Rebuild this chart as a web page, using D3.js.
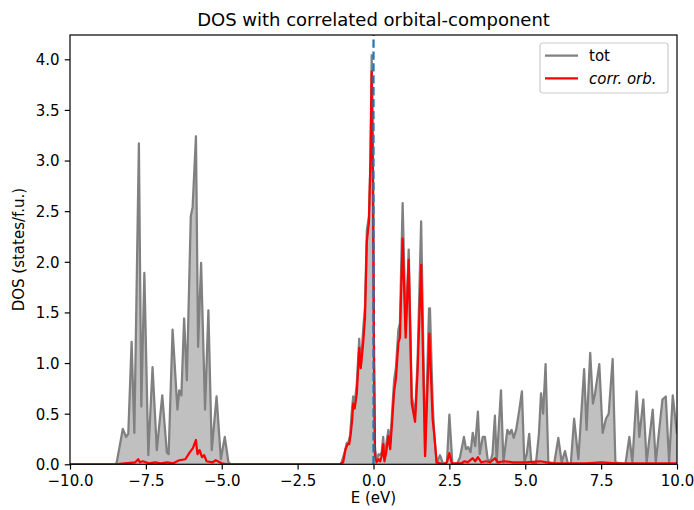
<!DOCTYPE html>
<html>
<head>
<meta charset="utf-8">
<script src="https://cdn.jsdelivr.net/npm/d3@7"></script>
<style>
  body { margin: 0; background: #fff; }
  svg { display: block; font-family: "DejaVu Sans", sans-serif; }
</style>
</head>
<body>
<script>
// total DOS, [E (eV), states/f.u.]
const totDOS = [
  [-10, 0], [-8.5, 0], [-8.46, 0.02], [-8.35, 0.2], [-8.26, 0.35], [-8.15, 0.27], [-8.08, 0.3],
  [-7.97, 1.21], [-7.88, 0.31], [-7.73, 3.17], [-7.65, 0.57], [-7.55, 1.89], [-7.42, 0.09],
  [-7.28, 0.96], [-7.14, 0.14], [-6.96, 0.68], [-6.81, 0.12], [-6.75, 0.1], [-6.62, 1.33],
  [-6.46, 0.54], [-6.40, 0.73], [-6.33, 0.68], [-6.24, 1.44], [-6.15, 0.83], [-6.02, 2.45],
  [-5.96, 2.54], [-5.85, 3.24], [-5.78, 1.16], [-5.68, 1.99], [-5.55, 0.54], [-5.44, 1.52],
  [-5.33, 0.14], [-5.17, 0.67], [-5.03, 0.05], [-4.90, 0.27], [-4.78, 0.02], [-4.7, 0],
  [-1.1, 0], [-1.05, 0.02], [-0.95, 0.12], [-0.88, 0.21], [-0.82, 0.22], [-0.77, 0.29],
  [-0.72, 0.5], [-0.67, 0.67], [-0.62, 0.6], [-0.55, 0.8], [-0.47, 1.24], [-0.42, 0.96],
  [-0.34, 1.33], [-0.28, 1.56], [-0.22, 2.31], [-0.15, 2.45], [-0.1, 3.0], [-0.06, 4.04],
  [-0.02, 3.0], [0.02, 1.0], [0.05, 0.15], [0.1, 0.05], [0.17, 0.1], [0.22, 0.09], [0.27, 0.12],
  [0.32, 0.27], [0.36, 0.07], [0.42, 0.2], [0.49, 0.34], [0.55, 0.2], [0.62, 0.55], [0.68, 0.83],
  [0.74, 0.96], [0.82, 1.33], [0.87, 1.39], [0.96, 2.58], [1.06, 1.33], [1.16, 2.12],
  [1.26, 0.67], [1.37, 0.5], [1.45, 1.0], [1.57, 2.40], [1.70, 0.11], [1.83, 1.54], [1.86, 1.54],
  [1.95, 0.6], [2.0, 0.3], [2.08, 0.01], [2.19, 0.09], [2.3, 0], [2.42, 0.02], [2.5, 0.49],
  [2.6, 0], [2.75, 0], [2.85, 0.07], [2.98, 0.27], [3.05, 0.15], [3.12, 0.17], [3.2, 0.12],
  [3.27, 0.31], [3.35, 0.18], [3.44, 0.52], [3.5, 0.1], [3.6, 0.27], [3.67, 0.27], [3.76, 0.05],
  [3.85, 0.03], [3.92, 0.1], [4.0, 0.48], [4.06, 0.02], [4.2, 0.73], [4.28, 0.02], [4.41, 0.34],
  [4.48, 0.3], [4.55, 0.34], [4.62, 0.26], [4.7, 0.34], [4.81, 0.55], [4.89, 0.72], [4.97, 0.02],
  [5.05, 0.1], [5.13, 0.3], [5.2, 0.02], [5.35, 0], [5.45, 0.3], [5.52, 0.7], [5.59, 0.5],
  [5.67, 0.99], [5.76, 0.02], [5.95, 0], [6.09, 0.26], [6.2, 0.02], [6.31, 0.13], [6.4, 0.01],
  [6.5, 0], [6.61, 0.45], [6.75, 0.05], [6.94, 0.94], [7.02, 0.34], [7.14, 1.1], [7.23, 0.6],
  [7.3, 0.7], [7.44, 0.99], [7.55, 0.31], [7.66, 0.45], [7.75, 0.5], [7.88, 1.04], [7.97, 0.02],
  [8.3, 0], [8.43, 0.27], [8.53, 0.02], [8.67, 0.72], [8.76, 0.27], [8.89, 0.64], [9.0, 0.02],
  [9.2, 0.54], [9.3, 0.02], [9.52, 0.64], [9.63, 0.67], [9.74, 0.02], [9.86, 0.68], [10.0, 0.3]
];

// correlated orbital component
const corrDOS = [
  [-10, 0], [-8.5, 0], [-8.2, 0.01], [-7.85, 0.02], [-7.75, 0.05], [-7.7, 0.02], [-7.6, 0.03],
  [-7.4, 0.01], [-7.2, 0.02], [-7.0, 0.01], [-6.8, 0.02], [-6.6, 0.01], [-6.4, 0.04], [-6.2, 0.05],
  [-6.05, 0.12], [-5.95, 0.16], [-5.85, 0.24], [-5.8, 0.1], [-5.73, 0.14], [-5.65, 0.07],
  [-5.58, 0.09], [-5.5, 0.03], [-5.3, 0.02], [-5.2, 0.04], [-5.0, 0.01], [-4.8, 0],
  [-1.1, 0], [-1.0, 0.02], [-0.92, 0.15], [-0.85, 0.2], [-0.8, 0.2], [-0.75, 0.3], [-0.7, 0.45],
  [-0.67, 0.6], [-0.62, 0.55], [-0.55, 0.7], [-0.47, 1.15], [-0.42, 0.95], [-0.34, 1.2],
  [-0.28, 1.45], [-0.22, 2.2], [-0.15, 2.4], [-0.1, 3.0], [-0.06, 3.88], [-0.02, 2.9],
  [0.02, 0.9], [0.05, 0.08], [0.1, 0.02], [0.17, 0.05], [0.22, 0.03], [0.27, 0.08], [0.32, 0.2],
  [0.36, 0.03], [0.42, 0.12], [0.49, 0.28], [0.55, 0.15], [0.62, 0.45], [0.68, 0.72],
  [0.74, 0.85], [0.82, 1.2], [0.87, 1.25], [0.96, 2.23], [1.06, 1.25], [1.16, 2.02], [1.26, 0.6],
  [1.37, 0.42], [1.45, 0.9], [1.57, 1.97], [1.70, 0.08], [1.84, 1.29], [1.95, 0.44], [2.0, 0.3],
  [2.08, 0.02], [2.3, 0], [2.42, 0.02], [2.5, 0.11], [2.58, 0.01], [2.9, 0.01], [3.0, 0.03],
  [3.1, 0.02], [3.27, 0.06], [3.35, 0.03], [3.44, 0.07], [3.55, 0.02], [3.7, 0.03], [3.85, 0.02],
  [4.0, 0.06], [4.1, 0.02], [4.3, 0.03], [4.6, 0.02], [5.0, 0.02], [5.5, 0.03], [5.7, 0.02],
  [6.0, 0.01], [7.0, 0.01], [7.5, 0.02], [8.0, 0.01], [9.0, 0.01], [10.0, 0.01]
];

const xTicks = [-10, -7.5, -5, -2.5, 0, 2.5, 5, 7.5, 10];
const yTicks = [0, 0.5, 1, 1.5, 2, 2.5, 3, 3.5, 4];
const legendLabels = ["tot", "corr. orb."];

let margin = { top: 35, right: 17, bottom: 45.7, left: 70 },
  width = 694 - margin.left - margin.right,
  height = 510 - margin.top - margin.bottom;

let svg = d3.select("body").append("svg")
  .attr("width", 694)
  .attr("height", 510)
  .append("g")
  .attr("transform", "translate(" + margin.left + "," + margin.top + ")");

let x = d3.scaleLinear().domain([-10, 10]).range([0, width]);
let y = d3.scaleLinear().domain([0, 4.24]).range([height, 0]);

svg.append("clipPath").attr("id", "plot-clip")
  .append("rect").attr("width", width).attr("height", height);

let plot = svg.append("g").attr("clip-path", "url(#plot-clip)");

plot.append("path")
  .datum(totDOS)
  .attr("fill", "#c0c0c0")
  .attr("d", d3.area().x(d => x(d[0])).y0(y(0)).y1(d => y(d[1])));

plot.append("path")
  .datum(totDOS)
  .attr("fill", "none")
  .attr("stroke", "#808080")
  .attr("stroke-width", 2.25)
  .attr("stroke-linejoin", "round")
  .attr("d", d3.line().x(d => x(d[0])).y(d => y(d[1])));

plot.append("path")
  .datum(corrDOS)
  .attr("fill", "none")
  .attr("stroke", "#ff0000")
  .attr("stroke-width", 2.25)
  .attr("stroke-linejoin", "round")
  .attr("d", d3.line().x(d => x(d[0])).y(d => y(d[1])));

// Fermi level
plot.append("line")
  .attr("x1", x(0)).attr("x2", x(0))
  .attr("y1", height).attr("y2", 0)
  .attr("stroke", "#1f77b4")
  .attr("stroke-width", 2.25)
  .attr("stroke-dasharray", "8.3,3.6");

// axes
let xAxis = svg.append("g")
  .attr("transform", "translate(0," + height + ")")
  .call(d3.axisBottom(x)
    .tickValues(xTicks)
    .tickSize(5.25)
    .tickPadding(5.25)
    .tickFormat(d => d3.format(".1f")(d)));
let yAxis = svg.append("g")
  .call(d3.axisLeft(y)
    .tickValues(yTicks)
    .tickSize(5.25)
    .tickPadding(5.25)
    .tickFormat(d => d3.format(".1f")(d)));

[xAxis, yAxis].forEach(a => {
  a.select(".domain").remove();
  a.selectAll(".tick line").attr("stroke", "#000").attr("stroke-width", 1.2);
  a.selectAll(".tick text")
    .attr("fill", "#000")
    .attr("font-size", 15)
    .attr("font-family", "DejaVu Sans");
});
xAxis.selectAll(".tick text").attr("dy", "0.75em");
yAxis.selectAll(".tick text").attr("dy", "0.36em");

svg.append("rect")
  .attr("width", width)
  .attr("height", height)
  .attr("fill", "none")
  .attr("stroke", "#000")
  .attr("stroke-width", 1.2);

// labels
svg.append("text")
  .attr("x", width / 2)
  .attr("y", -9)
  .attr("text-anchor", "middle")
  .attr("font-size", 18)
  .text("DOS with correlated orbital-component");

svg.append("text")
  .attr("x", width / 2)
  .attr("y", height + 39)
  .attr("text-anchor", "middle")
  .attr("font-size", 15)
  .text("E (eV)");

svg.append("text")
  .attr("transform", "translate(" + (24 - margin.left) + "," + height / 2 + ") rotate(-90)")
  .attr("text-anchor", "middle")
  .attr("font-size", 15)
  .text("DOS (states/f.u.)");

// legend
let legend = svg.append("g")
  .attr("transform", "translate(" + (540 - margin.left) + "," + (43 - margin.top) + ")");
legend.append("rect")
  .attr("width", 128)
  .attr("height", 50)
  .attr("rx", 3)
  .attr("fill", "#fff")
  .attr("fill-opacity", 0.8)
  .attr("stroke", "#cccccc")
  .attr("stroke-width", 1.2);
legendLabels.forEach((label, i) => {
  let ly = 12.7 + i * 22.6;
  legend.append("line")
    .attr("x1", 5).attr("x2", 38)
    .attr("y1", ly).attr("y2", ly)
    .attr("stroke", i === 0 ? "#808080" : "#ff0000")
    .attr("stroke-width", 2.25);
  legend.append("text")
    .attr("x", 49)
    .attr("y", ly)
    .attr("dy", "0.36em")
    .attr("font-size", 15)
    .attr("font-style", i === 0 ? "normal" : "italic")
    .text(label);
});
</script>
</body>
</html>
